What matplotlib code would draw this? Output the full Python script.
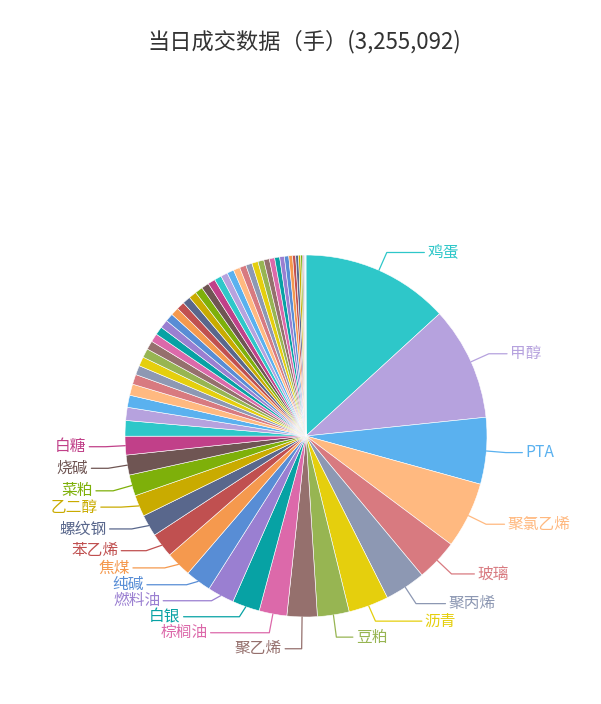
import matplotlib
matplotlib.use("Agg")
import matplotlib.pyplot as plt
import numpy as np

plt.rcParams['font.family'] = ['Noto Sans CJK SC', 'DejaVu Sans']

# ==========================
# Data (lots traded)
# ==========================
title = "当日成交数据（手）(3,255,092)"

names = [
    "鸡蛋", "甲醇", "PTA", "聚氯乙烯", "玻璃", "聚丙烯", "沥青", "豆粕", "聚乙烯", "棕榈油",
    "白银", "燃料油", "纯碱", "焦煤", "苯乙烯", "螺纹钢", "乙二醇", "菜粕", "烧碱", "白糖",
    "豆油", "菜油", "棉花", "铁矿石", "玉米", "热卷", "焦炭", "橡胶", "纸浆", "苹果",
    "沪铜", "沪铝", "沪锌", "沪镍", "黄金", "锰硅", "硅铁", "尿素", "短纤", "花生",
    "生猪", "淀粉", "豆一", "豆二", "液化气", "不锈钢", "沪锡", "沪铅", "原油", "低硫燃油",
    "20号胶", "红枣", "棉纱", "动力煤", "粳米", "强麦", "菜籽", "线材", "普麦", "粳稻",
    "早籼稻", "晚籼稻", "胶合板",
]

volumes = [
    429490, 330030, 193500, 192590, 121160, 118450, 116640, 92230, 87710, 80470,
    79570, 77760, 75050, 74140, 71430, 63290, 62390, 61490, 57870, 54250,
    45210, 37980, 35260, 32550, 28930, 27130, 26900, 26220, 25320, 24410,
    24300, 24200, 23510, 23400, 23300, 23200, 22600, 22500, 21700, 21600,
    20800, 19900, 19800, 19000, 18900, 18100, 18000, 17200, 16300, 15400,
    14500, 13600, 12700, 10900, 9000, 8100, 6300, 4500, 3600, 2700,
    1800, 1700, 900,
]

# only the biggest slices carry a label
n_labeled = 20

palette = ['#2ec7c9', '#b6a2de', '#5ab1ef', '#ffb980', '#d87a80', '#8d98b3', '#e5cf0d',
           '#97b552', '#95706d', '#dc69aa', '#07a2a4', '#9a7fd1', '#588dd5', '#f5994e',
           '#c05050', '#59678c', '#c9ab00', '#7eb00a', '#6f5553', '#c14089']

# ==========================
# Layout (pixels, y measured from the top)
# ==========================
W, H = 601, 704
cx, cy, r = 306, 436, 181
len1, len2 = 19.5, 19.5
label_h = 16

fig = plt.figure(figsize=(W / 100, H / 100), dpi=100)
ax = fig.add_axes([0, 0, 1, 1])

colors = [palette[i % len(palette)] for i in range(len(volumes))]
wedges, _ = ax.pie(volumes, colors=colors, startangle=90, counterclock=False,
                   center=(cx, H - cy), radius=r, frame=True,
                   wedgeprops=dict(edgecolor='white', linewidth=0.4))

ax.set_xlim(0, W)
ax.set_ylim(0, H)
ax.set_aspect('equal')
ax.axis('off')

# label positions, roughly the way echarts spreads pie labels
items = []
for i in range(n_labeled):
    w = wedges[i]
    mid = np.deg2rad((w.theta1 + w.theta2) / 2)
    dx, dy = np.cos(mid), -np.sin(mid)
    side = 1 if dx >= 0 else -1
    ex, ey = cx + r * dx, cy + r * dy
    bx, by = cx + (r + len1) * dx, cy + (r + len1) * dy
    items.append(dict(i=i, side=side, edge=(ex, ey), bx=bx,
                      x=bx + side * len2, y=by, h=label_h))


def adjust_side(lst, side):
    lst.sort(key=lambda d: d['y'])
    n = len(lst)

    def shift_up(end, delta):
        for j in range(end, -1, -1):
            if lst[j]['y'] - delta < 0:
                break
            lst[j]['y'] -= delta
            if j > 0 and lst[j]['y'] > lst[j - 1]['y'] + lst[j - 1]['h']:
                break

    def shift_down(start, end, delta):
        for j in range(start, end):
            if lst[j]['y'] + delta > H:
                break
            lst[j]['y'] += delta
            if j > start and j + 1 < end and lst[j + 1]['y'] > lst[j]['y'] + lst[j]['h']:
                shift_up(j, delta / 2)
                return
        shift_up(end - 1, delta / 2)

    last_y = 0
    for k in range(n):
        delta = lst[k]['y'] - last_y
        if delta < 0:
            shift_down(k, n, -delta)
        last_y = lst[k]['y'] + lst[k]['h']

    def change_x(sub, down):
        last_dx = 1e9 if down else 0
        for it in sub:
            ddy = abs(it['y'] - cy)
            if ddy < r + len1:
                ddx = np.sqrt((r + len1 + len2) ** 2 - ddy ** 2)
            else:
                ddx = abs(it['x'] - cx)
            if down and ddx >= last_dx:
                ddx = last_dx - 10
            if not down and ddx <= last_dx:
                ddx = last_dx + 10
            it['x'] = cx + ddx * side
            last_dx = ddx

    change_x([it for it in lst if it['y'] < cy], False)
    change_x([it for it in lst if it['y'] >= cy], True)


for s in (1, -1):
    adjust_side([it for it in items if it['side'] == s], s)

for it in items:
    c = colors[it['i']]
    ex, ey = it['edge']
    end_x = it['x'] - 3 * it['side']
    xs = [ex, it['bx'], end_x]
    ys = [ey, it['y'], it['y']]
    ax.plot(xs, [H - v for v in ys], color=c, linewidth=0.9, solid_capstyle='round')
    ax.text(it['x'], H - it['y'], names[it['i']], color=c, fontsize=11.3,
            ha='left' if it['side'] > 0 else 'right', va='center')

ax.text(W / 2 + 4, H - 42, title, color='#333333', fontsize=16, ha='center', va='center')

fig.savefig("out.png", dpi=100, facecolor='white')
